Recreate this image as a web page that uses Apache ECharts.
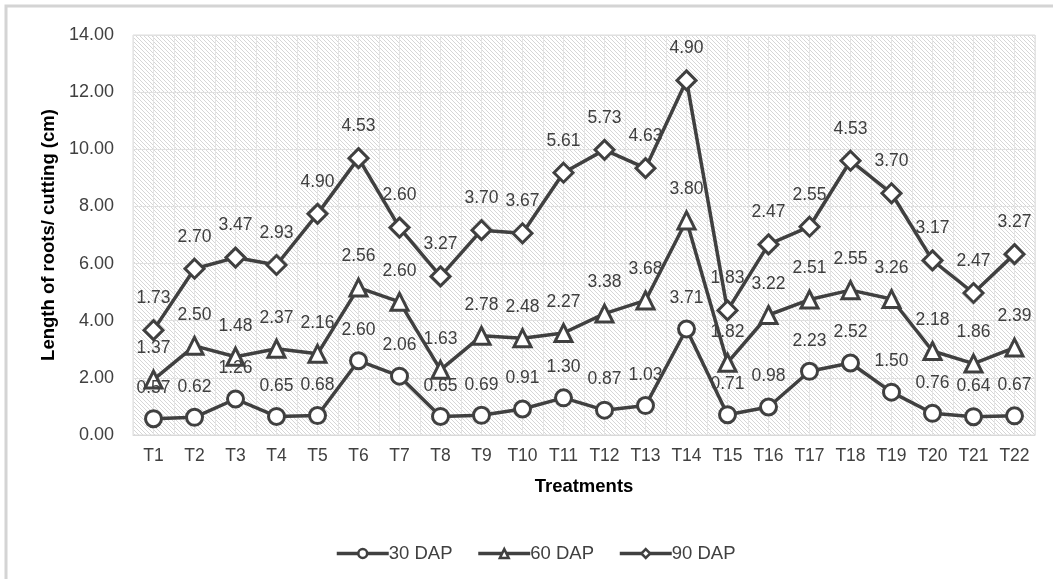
<!DOCTYPE html>
<html>
<head>
<meta charset="utf-8">
<script src="https://cdn.jsdelivr.net/npm/echarts@6/dist/echarts.min.js"></script>
<style>
  html, body { margin: 0; padding: 0; background: #ffffff; }
  #chart { width: 1053px; height: 579px; }
</style>
</head>
<body>
<div id="chart"></div>
<script>
// Treatments on the category axis
const treatments = ['T1','T2','T3','T4','T5','T6','T7','T8','T9','T10','T11',
                    'T12','T13','T14','T15','T16','T17','T18','T19','T20','T21','T22'];

// Root length per cutting (cm) at each sampling date
const dap30 = [0.57,0.62,1.26,0.65,0.68,2.60,2.06,0.65,0.69,0.91,1.30,0.87,1.03,3.71,0.71,0.98,2.23,2.52,1.50,0.76,0.64,0.67];
const dap60 = [1.37,2.50,1.48,2.37,2.16,2.56,2.60,1.63,2.78,2.48,2.27,3.38,3.68,3.80,1.82,3.22,2.51,2.55,3.26,2.18,1.86,2.39];
const dap90 = [1.73,2.70,3.47,2.93,4.90,4.53,2.60,3.27,3.70,3.67,5.61,5.73,4.63,4.90,1.83,2.47,2.55,4.53,3.70,3.17,2.47,3.27];

const seriesNames = ['30 DAP', '60 DAP', '90 DAP'];
const yTicks = { min: 0, max: 14, interval: 2 };

// Half-category slots for the light vertical grid inside the plot
const halfSlots = [];
treatments.forEach(t => { halfSlots.push(t + 'a', t + 'b'); });

// Diagonal hatch fill for the plot area
function hatchPattern() {
  const p = 4;
  const c = document.createElement('canvas');
  c.width = p; c.height = p;
  const ctx = c.getContext('2d');
  ctx.fillStyle = '#ffffff';
  ctx.fillRect(0, 0, p, p);
  ctx.strokeStyle = '#d6d6d6';
  ctx.lineWidth = 1;
  ctx.beginPath();
  ctx.moveTo(-1, -1); ctx.lineTo(p + 1, p + 1);
  ctx.moveTo(-1, p - 1); ctx.lineTo(1, p + 1);
  ctx.moveTo(p - 1, -1); ctx.lineTo(p + 1, 1);
  ctx.stroke();
  return c;
}

const ink = '#404040';
const textColor = '#404040';
const labelFont = { fontFamily: 'Liberation Sans, Arial, sans-serif', fontSize: 17.5, color: textColor };

function makeSeries(name, data, symbol, size) {
  return {
    name: name,
    type: 'line',
    stack: 'total',
    data: data,
    symbol: symbol,
    symbolSize: size,
    showAllSymbol: true,
    lineStyle: { color: ink, width: 3.5 },
    itemStyle: { color: '#ffffff', borderColor: ink, borderWidth: 3 },
    emphasis: { disabled: true },
    label: Object.assign({
      show: true,
      position: 'top',
      distance: 12,
      formatter: p => Number(p.value).toFixed(2)
    }, labelFont),
    z: 3
  };
}

const chart = echarts.init(document.getElementById('chart'), null, { renderer: 'canvas' });

chart.setOption({
  backgroundColor: '#ffffff',
  animation: false,
  textStyle: { fontFamily: 'Liberation Sans, Arial, sans-serif' },
  graphic: [{
    type: 'rect',
    shape: { x: 6, y: 6, width: 1080, height: 620 },
    style: { fill: 'none', stroke: '#d4d4d4', lineWidth: 3 },
    silent: true,
    z: -10
  }],
  grid: {
    left: 133, right: 18, top: 35, bottom: 144,
    show: true,
    backgroundColor: { image: hatchPattern(), repeat: 'repeat' },
    borderColor: '#dcdcdc',
    borderWidth: 1
  },
  legend: {
    data: seriesNames,
    left: 330,
    top: 539,
    itemWidth: 52,
    itemHeight: 11,
    itemGap: 24,
    lineStyle: { width: 3.5, color: ink },
    itemStyle: { color: '#ffffff', borderColor: ink, borderWidth: 2.5 },
    textStyle: { fontSize: 18.5, color: textColor, padding: [0, 0, 0, -5] }
  },
  xAxis: [{
    type: 'category',
    data: treatments,
    boundaryGap: true,
    name: 'Treatments',
    nameLocation: 'middle',
    nameGap: 42,
    nameTextStyle: { fontSize: 18.5, fontWeight: 'bold', color: '#000000' },
    axisLine: { lineStyle: { color: '#d9d9d9' } },
    axisTick: { show: false },
    axisLabel: { fontSize: 17.5, color: textColor, margin: 12, interval: 0 },
    splitLine: { show: false }
  }, {
    type: 'category',
    data: halfSlots,
    boundaryGap: true,
    position: 'bottom',
    axisLine: { show: false },
    axisTick: { show: false },
    axisLabel: { show: false },
    splitLine: { show: true, interval: 0, lineStyle: { color: '#e4e4e4', width: 1 } }
  }],
  yAxis: {
    type: 'value',
    min: yTicks.min, max: yTicks.max, interval: yTicks.interval,
    name: 'Length of roots/ cutting (cm)',
    nameLocation: 'middle',
    nameGap: 72,
    nameTextStyle: { fontSize: 18.5, fontWeight: 'bold', color: '#000000' },
    axisLine: { show: false },
    axisTick: { show: false },
    axisLabel: { fontSize: 18, color: textColor, margin: 19, formatter: v => v.toFixed(2) },
    splitLine: { show: true, lineStyle: { color: '#e0e0e0', width: 1 } }
  },
  series: [
    makeSeries(seriesNames[0], dap30, 'circle', 16),
    makeSeries(seriesNames[1], dap60, 'triangle', 17),
    makeSeries(seriesNames[2], dap90, 'diamond', 19)
  ]
});
</script>
</body>
</html>
